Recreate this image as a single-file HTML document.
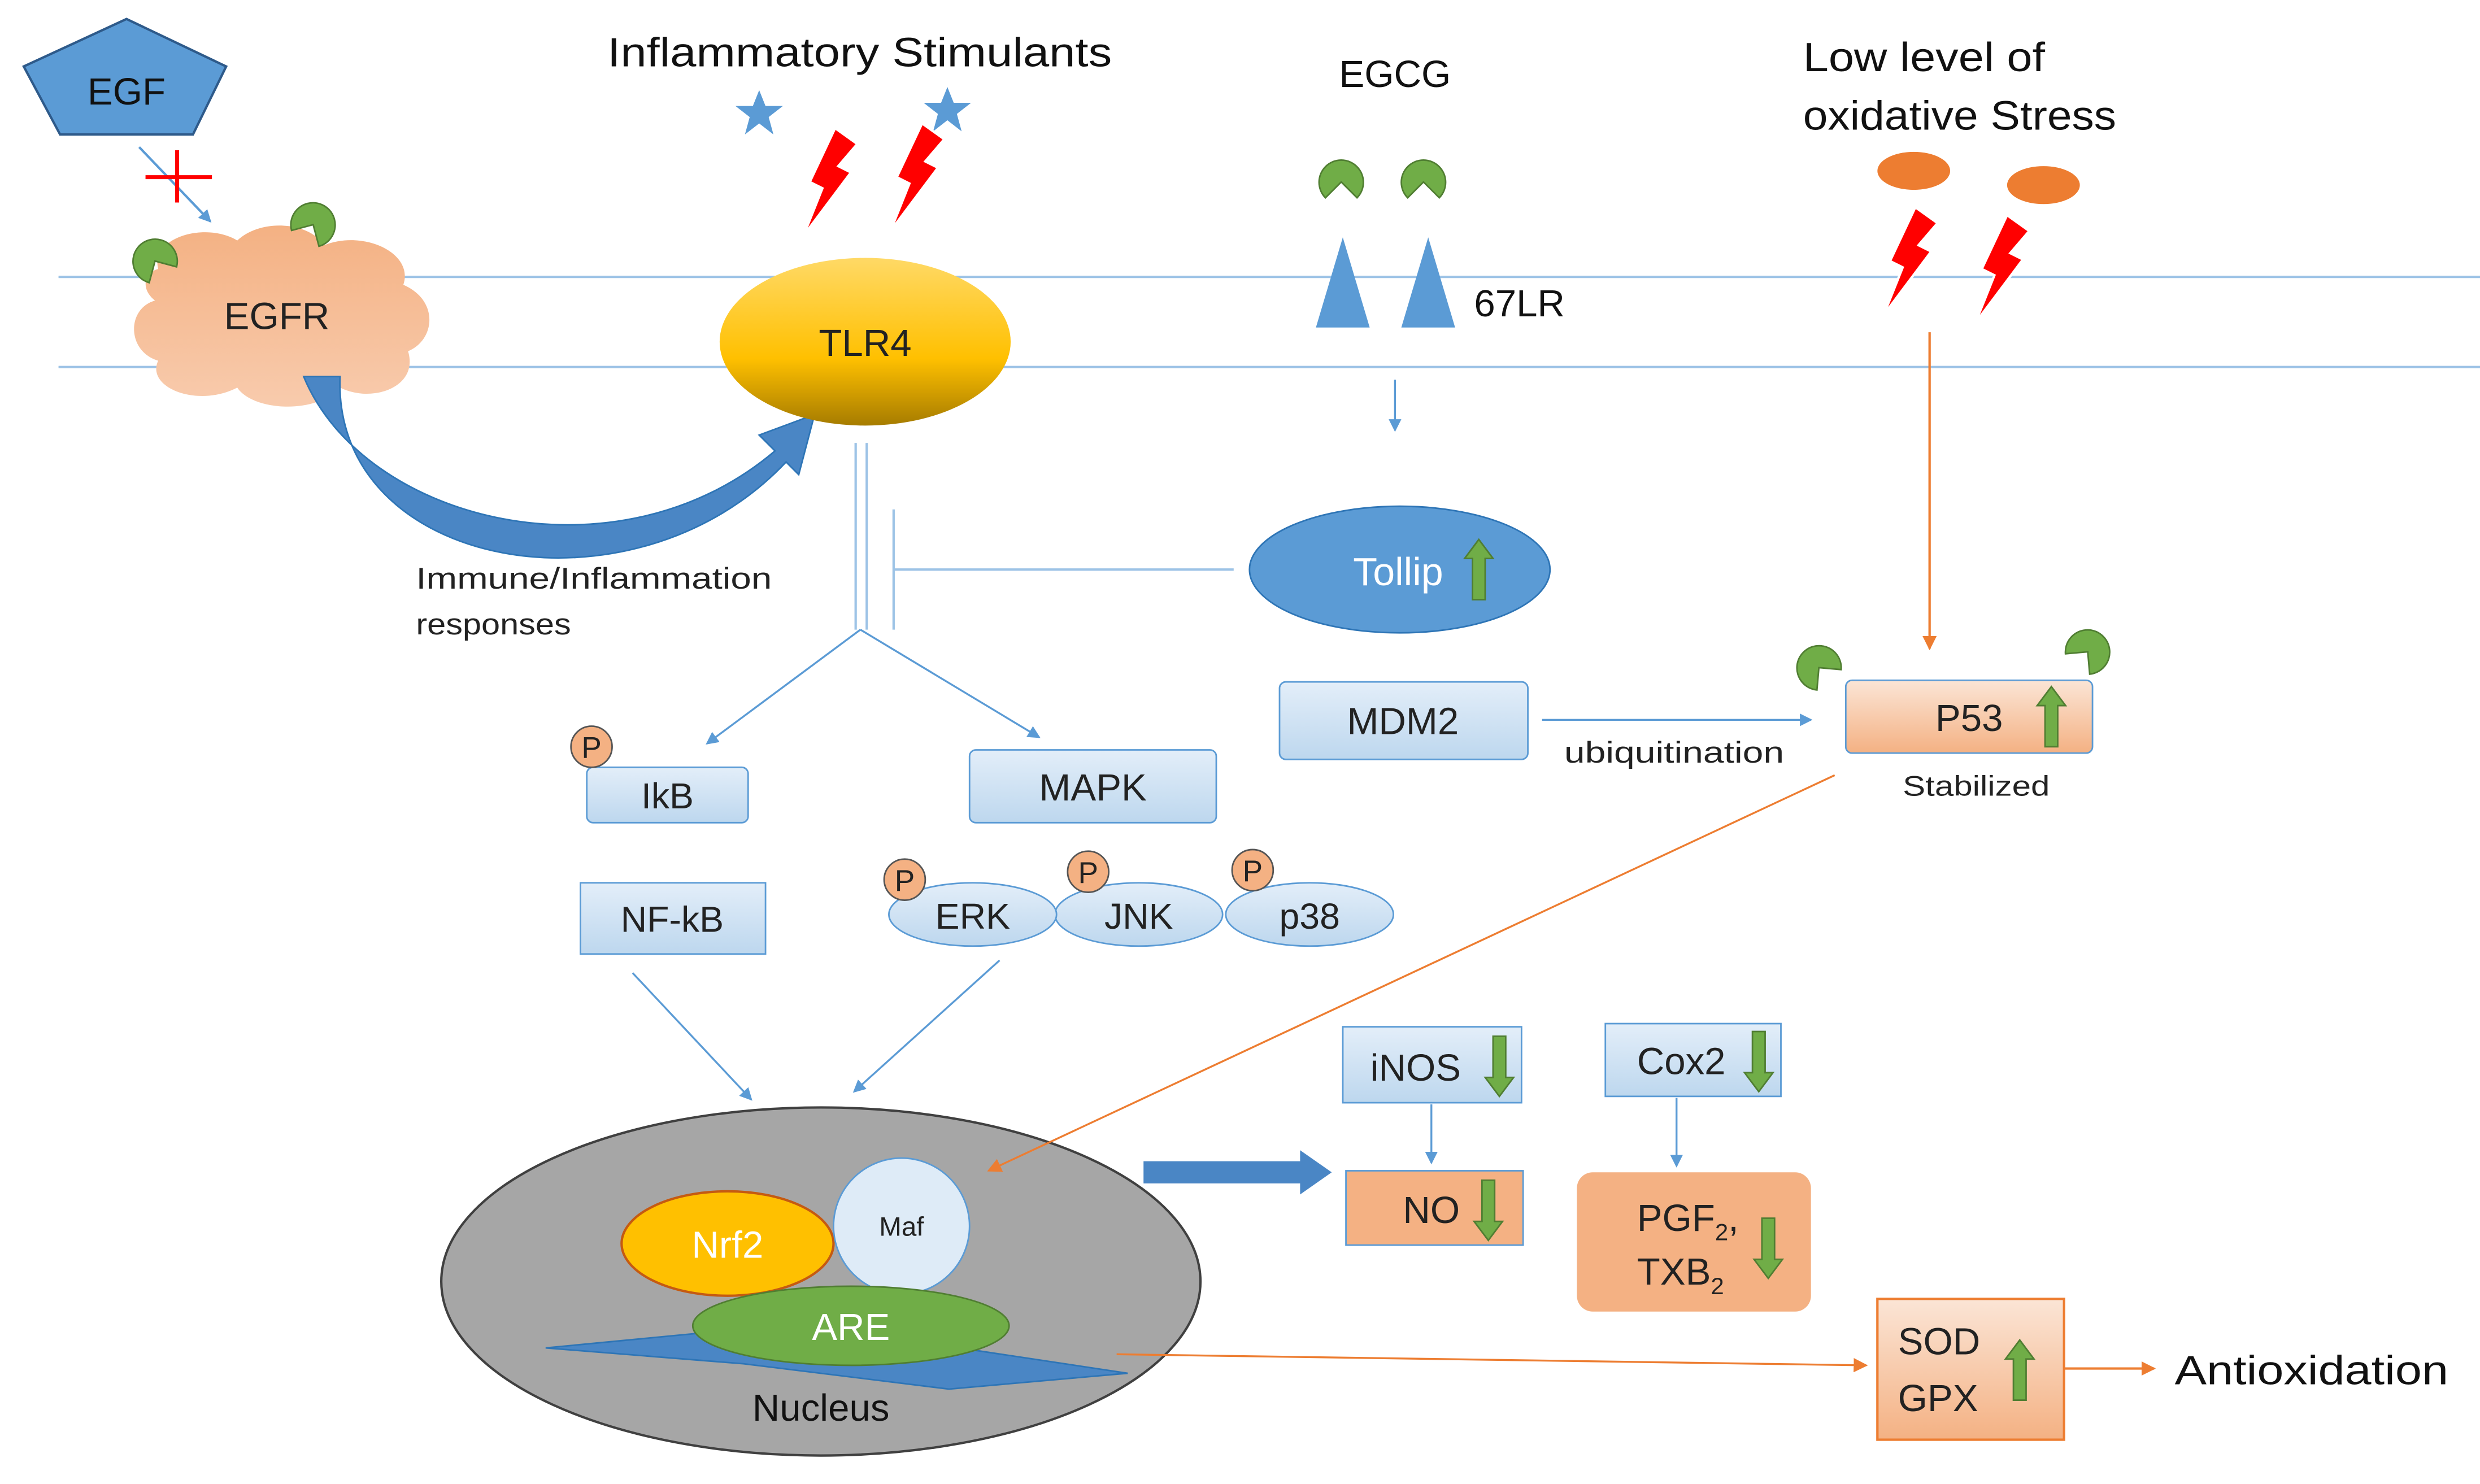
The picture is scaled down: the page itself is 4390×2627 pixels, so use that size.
<!DOCTYPE html>
<html><head><meta charset="utf-8"><style>
html,body{margin:0;padding:0;background:#fff;}
svg{display:block;}
text{font-family:"Liberation Sans",sans-serif;}
</style></head><body>
<svg width="4390" height="2627" viewBox="0 0 1568 938" preserveAspectRatio="none" xmlns="http://www.w3.org/2000/svg">
<defs>
<linearGradient id="egfr" x1="0" y1="0" x2="0" y2="1"><stop offset="0" stop-color="#f4b183"/><stop offset="1" stop-color="#f8cbad"/></linearGradient>
<linearGradient id="tlr" x1="0" y1="0" x2="0" y2="1"><stop offset="0" stop-color="#ffd966"/><stop offset="0.6" stop-color="#ffc000"/><stop offset="1" stop-color="#a67c00"/></linearGradient>
<linearGradient id="box" x1="0" y1="0" x2="0" y2="1"><stop offset="0" stop-color="#e3eef9"/><stop offset="1" stop-color="#bdd7ee"/></linearGradient>
<linearGradient id="peach" x1="0" y1="0" x2="0" y2="1"><stop offset="0" stop-color="#fbe5d6"/><stop offset="1" stop-color="#f4b183"/></linearGradient>
<marker id="ab" markerWidth="8" markerHeight="8" refX="7" refY="4" orient="auto" markerUnits="userSpaceOnUse"><path d="M0,0 L8,4 L0,8 z" fill="#5b9bd5"/></marker>
<marker id="ao" markerWidth="9" markerHeight="9" refX="8" refY="4.5" orient="auto" markerUnits="userSpaceOnUse"><path d="M0,0 L9,4.5 L0,9 z" fill="#ed7d31"/></marker>
<g id="pac"><path d="M0,0 L-10,10 A14,14 0 1 1 10,10 Z" fill="#70ad47" stroke="#507e32" stroke-width="1"/></g>
<g id="bolt"><path d="M6,-34 L20,-24 L8,-10 L16,-6 L-14,34 L-2,4 L-10,0 Z" fill="#ff0000" stroke="#fff" stroke-width="1.5"/></g>
<g id="star"><path d="M0,-15 L4,-5 L15,-5 L6,2 L9,13 L0,6 L-9,13 L-6,2 L-15,-5 L-4,-5 Z" fill="#5b9bd5"/></g>
<g id="up"><path d="M-4,18 L-4,-8 L-9,-8 L0,-20 L9,-8 L4,-8 L4,18 Z" fill="#70ad47" stroke="#507e32"/></g>
<g id="dn"><path d="M-4,-18 L-4,8 L-9,8 L0,20 L9,8 L4,8 L4,-18 Z" fill="#70ad47" stroke="#507e32"/></g>
<g id="P"><circle r="13" fill="#f4b183" stroke="#555" stroke-width="1"/><text y="7" text-anchor="middle" font-size="19" fill="#222">P</text></g>
</defs>

<line x1="37" y1="175" x2="1568" y2="175" stroke="#9dc3e6" stroke-width="1.5"/>
<line x1="37" y1="232" x2="1568" y2="232" stroke="#9dc3e6" stroke-width="1.5"/>

<polygon points="80,12 143,42 122,85 38,85 15,42" fill="#5b9bd5" stroke="#2e5a8a" stroke-width="1.5"/>
<text x="80" y="66" text-anchor="middle" font-size="24" fill="#111">EGF</text>
<line x1="88" y1="93" x2="133" y2="140" stroke="#5b9bd5" stroke-width="1.5" marker-end="url(#ab)"/>
<line x1="112" y1="95" x2="112" y2="128" stroke="#ff0000" stroke-width="2.5"/>
<line x1="92" y1="112" x2="134" y2="112" stroke="#ff0000" stroke-width="2.5"/>

<path d="M100,170 C95,150 130,140 150,152 C165,138 195,140 205,155 C230,145 262,160 255,180 C278,190 275,215 258,222 C265,245 235,255 215,245 C200,262 160,260 150,245 C125,258 92,245 100,228 C80,222 80,195 98,190 C88,182 92,172 100,170 Z" fill="url(#egfr)"/>
<text x="175" y="208" text-anchor="middle" font-size="24" fill="#222">EGFR</text>
<use href="#pac" x="98" y="165" transform="rotate(-30 98 165)"/>
<use href="#pac" x="198" y="142" transform="rotate(30 198 142)"/>

<path d="M192,238 C230,330 390,370 490,285 L480,275 L515,262 L505,300 L497,292 C400,395 210,360 215,238 Z" fill="#4a86c5" stroke="#2e75b6" stroke-width="1"/>
<text x="263" y="372" font-size="19" fill="#222" textLength="225" lengthAdjust="spacingAndGlyphs">Immune/Inflammation</text>
<text x="263" y="401" font-size="19" fill="#222" textLength="98" lengthAdjust="spacingAndGlyphs">responses</text>

<text x="384" y="42" font-size="26" fill="#111" textLength="319" lengthAdjust="spacingAndGlyphs">Inflammatory Stimulants</text>
<use href="#star" x="480" y="72"/>
<use href="#star" x="599" y="70"/>
<use href="#bolt" x="522" y="115"/>
<use href="#bolt" x="577" y="112"/>

<ellipse cx="547" cy="216" rx="92" ry="53" fill="url(#tlr)"/>
<text x="547" y="225" text-anchor="middle" font-size="24" fill="#222">TLR4</text>
<line x1="541" y1="280" x2="541" y2="398" stroke="#9dc3e6" stroke-width="1.5"/>
<line x1="548" y1="280" x2="548" y2="398" stroke="#9dc3e6" stroke-width="1.5"/>
<line x1="565" y1="322" x2="565" y2="398" stroke="#9dc3e6" stroke-width="1.5"/>
<line x1="565" y1="360" x2="780" y2="360" stroke="#9dc3e6" stroke-width="1.5"/>
<line x1="544" y1="398" x2="447" y2="470" stroke="#5b9bd5" stroke-width="1.2" marker-end="url(#ab)"/>
<line x1="544" y1="398" x2="657" y2="466" stroke="#5b9bd5" stroke-width="1.2" marker-end="url(#ab)"/>

<text x="882" y="55" text-anchor="middle" font-size="24" fill="#111">EGCG</text>
<use href="#pac" x="848" y="115"/>
<use href="#pac" x="900" y="115"/>
<polygon points="849,150 866,207 832,207" fill="#5b9bd5"/>
<polygon points="903,150 920,207 886,207" fill="#5b9bd5"/>
<text x="932" y="200" font-size="24" fill="#111">67LR</text>
<line x1="882" y1="240" x2="882" y2="272" stroke="#5b9bd5" stroke-width="1.2" marker-end="url(#ab)"/>

<ellipse cx="885" cy="360" rx="95" ry="40" fill="#5b9bd5" stroke="#2e75b6"/>
<text x="884" y="370" text-anchor="middle" font-size="25" fill="#fff">Tollip</text>
<use href="#up" x="935" y="361"/>

<text x="1140" y="45" font-size="26" fill="#111" textLength="153" lengthAdjust="spacingAndGlyphs">Low level of</text>
<text x="1140" y="82" font-size="26" fill="#111" textLength="198" lengthAdjust="spacingAndGlyphs">oxidative Stress</text>
<ellipse cx="1210" cy="108" rx="23" ry="12" fill="#ed7d31"/>
<ellipse cx="1292" cy="117" rx="23" ry="12" fill="#ed7d31"/>
<use href="#bolt" x="1205" y="165"/>
<use href="#bolt" x="1263" y="170"/>
<line x1="1220" y1="210" x2="1220" y2="410" stroke="#ed7d31" stroke-width="1.5" marker-end="url(#ao)"/>

<rect x="371" y="485" width="102" height="35" rx="4" fill="url(#box)" stroke="#5b9bd5"/>
<text x="422" y="511" text-anchor="middle" font-size="23" fill="#222">IkB</text>
<use href="#P" x="374" y="472"/>
<rect x="613" y="474" width="156" height="46" rx="4" fill="url(#box)" stroke="#5b9bd5"/>
<text x="691" y="506" text-anchor="middle" font-size="24" fill="#222">MAPK</text>

<rect x="809" y="431" width="157" height="49" rx="4" fill="url(#box)" stroke="#5b9bd5"/>
<text x="887" y="464" text-anchor="middle" font-size="24" fill="#222">MDM2</text>
<text x="989" y="482" font-size="19" fill="#222" textLength="139" lengthAdjust="spacingAndGlyphs">ubiquitination</text>
<line x1="975" y1="455" x2="1145" y2="455" stroke="#5b9bd5" stroke-width="1.2" marker-end="url(#ab)"/>
<rect x="1167" y="430" width="156" height="46" rx="4" fill="url(#peach)" stroke="#5b9bd5"/>
<text x="1245" y="462" text-anchor="middle" font-size="24" fill="#222">P53</text>
<use href="#up" x="1297" y="454"/>
<use href="#pac" x="1150" y="422" transform="rotate(-40 1150 422)"/>
<use href="#pac" x="1320" y="412" transform="rotate(40 1320 412)"/>
<text x="1203" y="503" font-size="18" fill="#222" textLength="93" lengthAdjust="spacingAndGlyphs">Stabilized</text>

<rect x="367" y="558" width="117" height="45" fill="url(#box)" stroke="#5b9bd5"/>
<text x="425" y="589" text-anchor="middle" font-size="23" fill="#222">NF-kB</text>

<ellipse cx="828" cy="578" rx="53" ry="20" fill="url(#box)" stroke="#5b9bd5"/>
<ellipse cx="720" cy="578" rx="53" ry="20" fill="url(#box)" stroke="#5b9bd5"/>
<ellipse cx="615" cy="578" rx="53" ry="20" fill="url(#box)" stroke="#5b9bd5"/>
<text x="615" y="587" text-anchor="middle" font-size="23" fill="#222">ERK</text>
<text x="720" y="587" text-anchor="middle" font-size="23" fill="#222">JNK</text>
<text x="828" y="587" text-anchor="middle" font-size="23" fill="#222">p38</text>
<use href="#P" x="572" y="556"/>
<use href="#P" x="688" y="551"/>
<use href="#P" x="792" y="550"/>

<line x1="400" y1="615" x2="475" y2="695" stroke="#5b9bd5" stroke-width="1.2" marker-end="url(#ab)"/>
<line x1="632" y1="607" x2="540" y2="690" stroke="#5b9bd5" stroke-width="1.2" marker-end="url(#ab)"/>

<ellipse cx="519" cy="810" rx="240" ry="110" fill="#a6a6a6" stroke="#404040" stroke-width="1.5"/>
<polygon points="345,852 470,840 580,848 713,868 600,878 470,862" fill="#4a86c5" stroke="#2e75b6"/>
<ellipse cx="460" cy="786" rx="67" ry="33" fill="#ffc000" stroke="#c55a11" stroke-width="1.5"/>
<text x="460" y="795" text-anchor="middle" font-size="24" fill="#fff">Nrf2</text>
<circle cx="570" cy="775" r="43" fill="#deebf7" stroke="#5b9bd5"/>
<text x="570" y="781" text-anchor="middle" font-size="17" fill="#222">Maf</text>
<ellipse cx="538" cy="838" rx="100" ry="25" fill="#70ad47" stroke="#507e32"/>
<text x="538" y="847" text-anchor="middle" font-size="24" fill="#fff">ARE</text>
<text x="519" y="898" text-anchor="middle" font-size="24" fill="#111">Nucleus</text>

<line x1="1160" y1="490" x2="625" y2="740" stroke="#ed7d31" stroke-width="1.2" marker-end="url(#ao)"/>

<polygon points="723,734 822,734 822,727 842,741 822,755 822,748 723,748" fill="#4a86c5"/>

<rect x="849" y="649" width="113" height="48" fill="url(#box)" stroke="#5b9bd5"/>
<text x="895" y="683" text-anchor="middle" font-size="24" fill="#222">iNOS</text>
<use href="#dn" x="948" y="673"/>
<line x1="905" y1="698" x2="905" y2="735" stroke="#5b9bd5" stroke-width="1.2" marker-end="url(#ab)"/>
<rect x="851" y="740" width="112" height="47" fill="#f4b183" stroke="#5b9bd5"/>
<text x="905" y="773" text-anchor="middle" font-size="24" fill="#222">NO</text>
<use href="#dn" x="941" y="764"/>

<rect x="1015" y="647" width="111" height="46" fill="url(#box)" stroke="#5b9bd5"/>
<text x="1063" y="679" text-anchor="middle" font-size="24" fill="#222">Cox2</text>
<use href="#dn" x="1112" y="670"/>
<line x1="1060" y1="694" x2="1060" y2="737" stroke="#5b9bd5" stroke-width="1.2" marker-end="url(#ab)"/>
<rect x="997" y="741" width="148" height="88" rx="10" fill="#f4b183"/>
<text x="1035" y="778" font-size="24" fill="#222">PGF<tspan font-size="15" dy="6">2</tspan><tspan dy="-6">,</tspan></text>
<text x="1035" y="812" font-size="24" fill="#222">TXB<tspan font-size="15" dy="6">2</tspan></text>
<use href="#dn" x="1118" y="788"/>

<line x1="706" y1="856" x2="1180" y2="863" stroke="#ed7d31" stroke-width="1.2" marker-end="url(#ao)"/>
<rect x="1187" y="821" width="118" height="89" fill="url(#peach)" stroke="#ed7d31" stroke-width="1.5"/>
<text x="1200" y="856" font-size="24" fill="#222">SOD</text>
<text x="1200" y="892" font-size="24" fill="#222">GPX</text>
<use href="#up" x="1277" y="867"/>
<line x1="1305" y1="865" x2="1362" y2="865" stroke="#ed7d31" stroke-width="1.5" marker-end="url(#ao)"/>
<text x="1375" y="875" font-size="26" fill="#111" textLength="173" lengthAdjust="spacingAndGlyphs">Antioxidation</text>
</svg>
</body></html>
